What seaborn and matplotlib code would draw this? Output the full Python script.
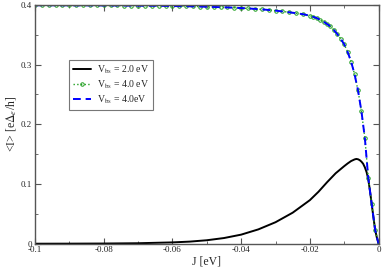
import numpy as np
import pandas as pd
import seaborn as sns
import matplotlib
matplotlib.use("Agg")
import matplotlib.pyplot as plt
from matplotlib.ticker import MultipleLocator, FuncFormatter

# black curve, V_bs = 2.0 eV
j_low = [-0.100, -0.090, -0.080, -0.070, -0.060, -0.055, -0.050, -0.045, -0.040,
         -0.035, -0.030, -0.025, -0.020, -0.0175, -0.015, -0.0125, -0.010, -0.009,
         -0.008, -0.007, -0.0065, -0.006, -0.0055, -0.005, -0.0045, -0.004, -0.0035,
         -0.003, -0.0025, -0.002, -0.0015, -0.001, -0.0005, 0.0]
i_low = [0.0, 0.0001, 0.0003, 0.0008, 0.0022, 0.0035, 0.0058, 0.0095, 0.0152,
         0.024, 0.036, 0.052, 0.073, 0.087, 0.103, 0.118, 0.130, 0.1345,
         0.1385, 0.1412, 0.1420, 0.1415, 0.1400, 0.1375, 0.134, 0.128, 0.120,
         0.108, 0.088, 0.066, 0.044, 0.023, 0.010, 0.0]

# V_bs = 4.0 eV (green markers and blue dashes share the values)
j_high = [-0.100, -0.098, -0.096, -0.094, -0.092, -0.090, -0.088, -0.086, -0.084,
          -0.082, -0.080, -0.078, -0.076, -0.074, -0.072, -0.070, -0.068, -0.066,
          -0.064, -0.062, -0.060, -0.058, -0.056, -0.054, -0.052, -0.050, -0.048,
          -0.046, -0.044, -0.042, -0.040, -0.038, -0.036, -0.034, -0.032, -0.030,
          -0.028, -0.026, -0.024, -0.022, -0.020, -0.019, -0.018, -0.017, -0.016,
          -0.015, -0.014, -0.013, -0.012, -0.011, -0.010, -0.009, -0.008, -0.007,
          -0.006, -0.005, -0.004, -0.003, -0.002, -0.001, 0.0]
i_high = [0.3995, 0.3995, 0.3995, 0.3994, 0.3994, 0.3994, 0.3993, 0.3993, 0.3993,
          0.3992, 0.3992, 0.3991, 0.3991, 0.3990, 0.3989, 0.3988, 0.3987, 0.3986,
          0.3985, 0.3984, 0.3982, 0.3980, 0.3978, 0.3976, 0.3973, 0.3970, 0.3967,
          0.3963, 0.3959, 0.3954, 0.3948, 0.3942, 0.3934, 0.3926, 0.3916, 0.3905,
          0.3892, 0.3877, 0.3862, 0.3845, 0.382, 0.380, 0.378, 0.375, 0.372,
          0.368, 0.364, 0.358, 0.351, 0.343, 0.334, 0.321, 0.305, 0.284,
          0.257, 0.222, 0.177, 0.110, 0.066, 0.023, 0.0]

labels = [r"V$_{\rm bs}$ = 2.0 eV", r"V$_{\rm bs}$ = 4.0 eV", r"V$_{\rm bs}$ = 4.0eV"]

low = pd.DataFrame({"J": j_low, "I": i_low})
high = pd.DataFrame({"J": j_high, "I": i_high})

sns.set_style("ticks")
plt.rcParams["font.family"] = ["Liberation Serif", "DejaVu Serif"]
plt.rcParams["mathtext.fontset"] = "stix"

fig = plt.figure(figsize=(3.82, 2.71), dpi=100)
ax = fig.add_axes([0.0916, 0.1007, 0.8995, 0.881])

sns.lineplot(data=low, x="J", y="I", ax=ax, color="black", lw=1.4, label=labels[0])
sns.lineplot(data=high, x="J", y="I", ax=ax, color="#22a022", lw=1.0, ls=":",
             marker="o", markersize=2.5, markerfacecolor="none",
             markeredgecolor="#22a022", markeredgewidth=0.7, label=labels[1])
sns.lineplot(data=high, x="J", y="I", ax=ax, color="#0000ff", lw=1.4,
             dashes=(4, 2.5), label=labels[2])

ax.set_xlim(-0.1, 0.0)
ax.set_ylim(0.0, 0.4)
ax.xaxis.set_major_locator(MultipleLocator(0.02))
ax.xaxis.set_minor_locator(MultipleLocator(0.01))
ax.yaxis.set_major_locator(MultipleLocator(0.1))
ax.yaxis.set_minor_locator(MultipleLocator(0.05))
fmt = FuncFormatter(lambda v, p: "0" if abs(v) < 1e-9 else ("%g" % round(v, 3)))
ax.xaxis.set_major_formatter(fmt)
ax.yaxis.set_major_formatter(fmt)
ax.tick_params(which="both", direction="in", top=True, right=True, labelsize=6.5,
               color="#555555", pad=2)
ax.tick_params(which="major", length=4)
ax.tick_params(which="minor", length=2.5)
for s in ax.spines.values():
    s.set_color("#555555")
    s.set_linewidth(1.0)

ax.set_xlabel("J [eV]", fontsize=8.5, labelpad=1)
ax.set_ylabel(r"<I> [e$\Delta_e$/h]", fontsize=8.5, labelpad=2)

leg = ax.legend(loc="upper left", bbox_to_anchor=(0.1, 0.77), fontsize=7,
                frameon=True, fancybox=False, handlelength=1.8, handletextpad=0.6,
                borderpad=0.4, labelspacing=0.25, borderaxespad=0)
leg.get_frame().set_edgecolor("#555555")
leg.get_frame().set_linewidth(0.8)

fig.savefig("out.png", dpi=100)
